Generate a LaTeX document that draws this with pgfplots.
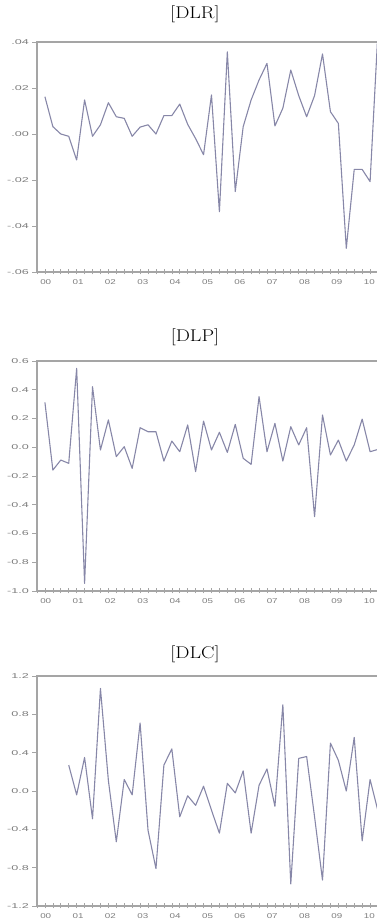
\documentclass[border=0pt]{standalone}
\usepackage{fontspec}
\newfontfamily\tickfont{Liberation Sans}
\usepackage{pgfplots}
\pgfplotsset{compat=1.18}
\definecolor{framec}{RGB}{165,165,165}
\definecolor{series}{RGB}{135,135,168}
\definecolor{lbl}{RGB}{125,125,125}
\pgfplotsset{
  eviews/.style={
    scale only axis, width=342.6pt, height=230pt, anchor=south west,
    xmin=-1, xmax=42.2, scaled y ticks=false, scaled x ticks=false,
    axis line style={framec, line width=1.1pt},
    major tick length=0pt, minor tick length=5pt,
    xtick align=center, ytick align=outside,
    xtick pos=bottom, ytick pos=left,
    every tick/.style={framec, line width=0.6pt},
    minor xtick={-1,0,...,42},
    xtick={0.1,4.18,8.26,12.34,16.42,20.5,24.58,28.66,32.74,36.82,40.9},
    xticklabels={00,01,02,03,04,05,06,07,08,09,10},
    xticklabel style={font=\tickfont\fontsize{7}{7}\selectfont, text=lbl, xscale=1.4, yshift=-4pt},
    yticklabel style={font=\tickfont\fontsize{7}{7}\selectfont, text=lbl, xscale=1.8, xshift=-1pt},
    title style={font=\fontsize{17}{17}\selectfont, xscale=1.18, anchor=center},
  }
}
\pgfplotstableread{
i v
0 0.0162
1 0.0032
2 0.0000
3 -0.0010
4 -0.0113
5 0.0148
6 -0.0010
7 0.0040
8 0.0136
9 0.0075
10 0.0068
11 -0.0010
12 0.0030
13 0.0040
14 0.0000
15 0.0080
16 0.0080
17 0.0130
18 0.0042
19 -0.0020
20 -0.0090
21 0.0170
22 -0.0338
23 0.0357
24 -0.0250
25 0.0032
26 0.0148
27 0.0235
28 0.0307
29 0.0035
30 0.0112
31 0.0278
32 0.0167
33 0.0075
34 0.0167
35 0.0348
36 0.0097
37 0.0046
38 -0.0497
39 -0.0154
40 -0.0154
41 -0.0207
42 0.0450
}\dlr
\pgfplotstableread{
i v
0 0.312
1 -0.159
2 -0.089
3 -0.112
4 0.549
5 -0.947
6 0.421
7 -0.019
8 0.190
9 -0.065
10 0.004
11 -0.147
12 0.136
13 0.108
14 0.108
15 -0.096
16 0.043
17 -0.031
18 0.155
19 -0.170
20 0.182
21 -0.019
22 0.104
23 -0.036
24 0.159
25 -0.077
26 -0.119
27 0.352
28 -0.031
29 0.166
30 -0.096
31 0.143
32 0.016
33 0.136
34 -0.483
35 0.224
36 -0.054
37 0.050
38 -0.096
39 0.016
40 0.196
41 -0.031
42 -0.015
}\dlp
\pgfplotstableread{
i v
3 0.27
4 -0.04
5 0.35
6 -0.29
7 1.07
8 0.11
9 -0.53
10 0.12
11 -0.04
12 0.71
13 -0.41
14 -0.81
15 0.27
16 0.44
17 -0.27
18 -0.05
19 -0.15
20 0.05
21 -0.20
22 -0.44
23 0.08
24 -0.02
25 0.21
26 -0.44
27 0.06
28 0.23
29 -0.16
30 0.90
31 -0.97
32 0.34
33 0.36
34 -0.27
35 -0.93
36 0.50
37 0.32
38 0.00
39 0.56
40 -0.52
41 0.12
42 -0.21
}\dlc
\begin{document}
\begin{tikzpicture}
\path[use as bounding box] (0pt,0pt) rectangle (376pt,924pt);
\begin{axis}[eviews, at={(37pt,652pt)},
  ymin=-0.06, ymax=0.04,
  ytick={-0.06,-0.04,-0.02,0,0.02,0.04},
  minor ytick={-0.06,-0.04,-0.02,0,0.02,0.04},
  yticklabels={-.06,-.04,-.02,.00,.02,.04},
  title={[DLR]}, title style={at={(0.461,1)}, yshift=22pt}]
\addplot[series, line width=1.1pt, line join=round] table[x=i,y=v] {\dlr};
\end{axis}
\begin{axis}[eviews, at={(37pt,333pt)},
  ymin=-1.0, ymax=0.6,
  ytick={-1,-0.8,-0.6,-0.4,-0.2,0,0.2,0.4,0.6},
  minor ytick={-1,-0.8,-0.6,-0.4,-0.2,0,0.2,0.4,0.6},
  yticklabels={-1.0,-0.8,-0.6,-0.4,-0.2,0.0,0.2,0.4,0.6},
  title={[DLP]}, title style={at={(0.461,1)}, yshift=18pt}]
\addplot[series, line width=1.1pt, line join=round] table[x=i,y=v] {\dlp};
\end{axis}
\begin{axis}[eviews, at={(37pt,18pt)},
  ymin=-1.2, ymax=1.2,
  ytick={-1.2,-0.8,-0.4,0,0.4,0.8,1.2},
  minor ytick={-1.2,-0.8,-0.4,0,0.4,0.8,1.2},
  yticklabels={-1.2,-0.8,-0.4,0.0,0.4,0.8,1.2},
  title={[DLC]}, title style={at={(0.461,1)}, yshift=16pt}]
\addplot[series, line width=1.1pt, line join=round] table[x=i,y=v] {\dlc};
\end{axis}
\end{tikzpicture}
\end{document}
